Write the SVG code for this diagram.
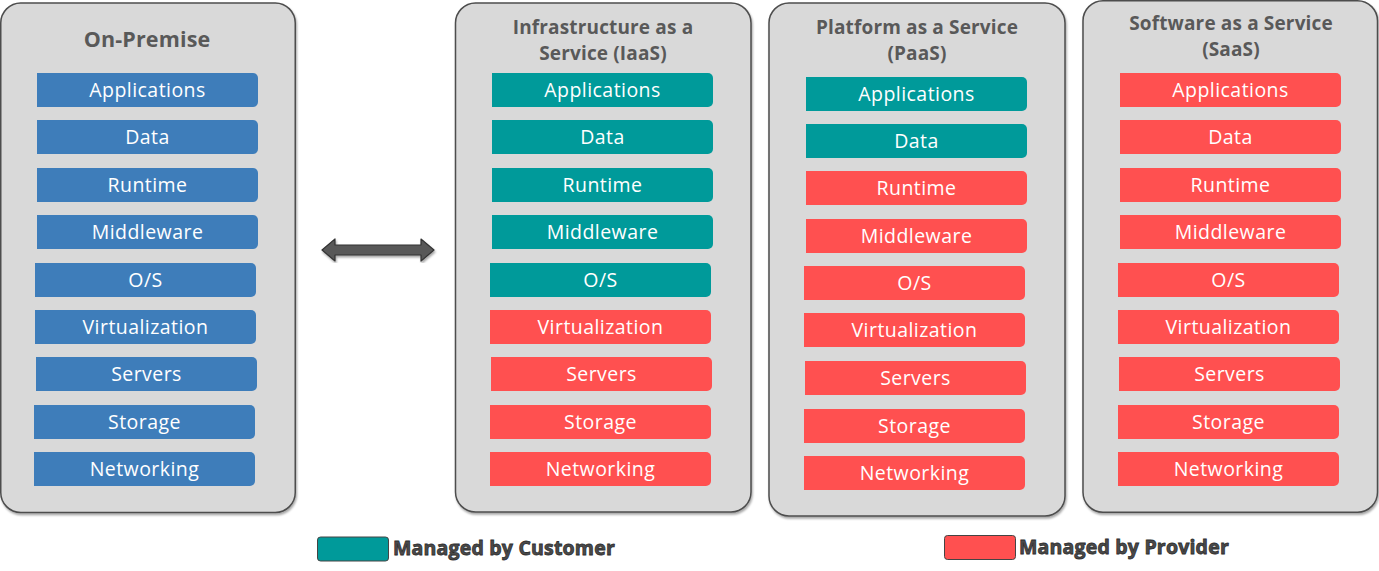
<svg xmlns="http://www.w3.org/2000/svg" width="1379" height="571" viewBox="0 0 1379 571">
<style>
.panel{fill:#d9d9d9;stroke:#4d4d4d;stroke-width:1.5}
.title{font-family:"Open Sans",sans-serif;font-weight:bold;font-size:19px;letter-spacing:0.15px;fill:#595959;text-anchor:middle}
.lbl{font-family:"Open Sans",sans-serif;font-size:19.5px;letter-spacing:0.45px;fill:#ffffff;text-anchor:middle}
.blue{fill:#3e7dba}
.teal{fill:#009a9a}
.red{fill:#ff5050}
.legend{font-family:"Open Sans",sans-serif;font-weight:bold;font-size:19.5px;letter-spacing:0.2px;fill:#4a4a4a;stroke:#2e2e2e;stroke-width:0.8}
</style>
<defs>
<path id="bar" d="M0 0 h216 a5 5 0 0 1 5 5 v24 a5 5 0 0 1 -5 5 h-216 z"/>
<filter id="sh" x="-5%" y="-5%" width="110%" height="110%"><feDropShadow dx="1" dy="2" stdDeviation="1.2" flood-color="#000" flood-opacity="0.35"/></filter>
</defs>
<rect width="1379" height="571" fill="#ffffff"/>

<g id="onpremise">
<rect class="panel" filter="url(#sh)" x="0.75" y="3" width="294.5" height="509.5" rx="20"/>
<text class="title" x="147" y="47" style="font-size:21.5px">On-Premise</text>
<use href="#bar" class="blue" x="37" y="73"/><text class="lbl" x="147.5" y="97">Applications</text>
<use href="#bar" class="blue" x="37" y="120"/><text class="lbl" x="147.5" y="144">Data</text>
<use href="#bar" class="blue" x="37" y="168"/><text class="lbl" x="147.5" y="192">Runtime</text>
<use href="#bar" class="blue" x="37" y="215"/><text class="lbl" x="147.5" y="239">Middleware</text>
<use href="#bar" class="blue" x="35" y="263"/><text class="lbl" x="145.5" y="287">O/S</text>
<use href="#bar" class="blue" x="35" y="310"/><text class="lbl" x="145.5" y="334">Virtualization</text>
<use href="#bar" class="blue" x="36" y="357"/><text class="lbl" x="146.5" y="381">Servers</text>
<use href="#bar" class="blue" x="34" y="405"/><text class="lbl" x="144.5" y="429">Storage</text>
<use href="#bar" class="blue" x="34" y="452"/><text class="lbl" x="144.5" y="476">Networking</text>
</g>

<g id="iaas">
<rect class="panel" filter="url(#sh)" x="455.5" y="3" width="295.5" height="509" rx="20"/>
<text class="title" x="603" y="33.5">Infrastructure as a</text>
<text class="title" x="603" y="59.5">Service (IaaS)</text>
<use href="#bar" class="teal" x="492" y="73"/><text class="lbl" x="602.5" y="97">Applications</text>
<use href="#bar" class="teal" x="492" y="120"/><text class="lbl" x="602.5" y="144">Data</text>
<use href="#bar" class="teal" x="492" y="168"/><text class="lbl" x="602.5" y="192">Runtime</text>
<use href="#bar" class="teal" x="492" y="215"/><text class="lbl" x="602.5" y="239">Middleware</text>
<use href="#bar" class="teal" x="490" y="263"/><text class="lbl" x="600.5" y="287">O/S</text>
<use href="#bar" class="red" x="490" y="310"/><text class="lbl" x="600.5" y="334">Virtualization</text>
<use href="#bar" class="red" x="491" y="357"/><text class="lbl" x="601.5" y="381">Servers</text>
<use href="#bar" class="red" x="490" y="405"/><text class="lbl" x="600.5" y="429">Storage</text>
<use href="#bar" class="red" x="490" y="452"/><text class="lbl" x="600.5" y="476">Networking</text>
</g>

<g id="paas">
<rect class="panel" filter="url(#sh)" x="769" y="3" width="296" height="513" rx="20"/>
<text class="title" x="917" y="33.5">Platform as a Service</text>
<text class="title" x="917" y="59.5">(PaaS)</text>
<use href="#bar" class="teal" x="806" y="77"/><text class="lbl" x="916.5" y="101">Applications</text>
<use href="#bar" class="teal" x="806" y="124"/><text class="lbl" x="916.5" y="148">Data</text>
<use href="#bar" class="red" x="806" y="171"/><text class="lbl" x="916.5" y="195">Runtime</text>
<use href="#bar" class="red" x="806" y="219"/><text class="lbl" x="916.5" y="243">Middleware</text>
<use href="#bar" class="red" x="804" y="266"/><text class="lbl" x="914.5" y="290">O/S</text>
<use href="#bar" class="red" x="804" y="313"/><text class="lbl" x="914.5" y="337">Virtualization</text>
<use href="#bar" class="red" x="805" y="361"/><text class="lbl" x="915.5" y="385">Servers</text>
<use href="#bar" class="red" x="804" y="409"/><text class="lbl" x="914.5" y="433">Storage</text>
<use href="#bar" class="red" x="804" y="456"/><text class="lbl" x="914.5" y="480">Networking</text>
</g>

<g id="saas">
<rect class="panel" filter="url(#sh)" x="1083" y="0.75" width="294.5" height="511.5" rx="20"/>
<text class="title" x="1231" y="30">Software as a Service</text>
<text class="title" x="1231" y="56">(SaaS)</text>
<use href="#bar" class="red" x="1120" y="73"/><text class="lbl" x="1230.5" y="97">Applications</text>
<use href="#bar" class="red" x="1120" y="120"/><text class="lbl" x="1230.5" y="144">Data</text>
<use href="#bar" class="red" x="1120" y="168"/><text class="lbl" x="1230.5" y="192">Runtime</text>
<use href="#bar" class="red" x="1120" y="215"/><text class="lbl" x="1230.5" y="239">Middleware</text>
<use href="#bar" class="red" x="1118" y="263"/><text class="lbl" x="1228.5" y="287">O/S</text>
<use href="#bar" class="red" x="1118" y="310"/><text class="lbl" x="1228.5" y="334">Virtualization</text>
<use href="#bar" class="red" x="1119" y="357"/><text class="lbl" x="1229.5" y="381">Servers</text>
<use href="#bar" class="red" x="1118" y="405"/><text class="lbl" x="1228.5" y="429">Storage</text>
<use href="#bar" class="red" x="1118" y="452"/><text class="lbl" x="1228.5" y="476">Networking</text>
</g>

<g id="connectors">
<path d="M322 250 L335 239 L335 245 L421 245 L421 239 L434 250 L421 261 L421 255 L335 255 L335 261 Z" fill="#595959" stroke="#333" stroke-width="1.2" stroke-linejoin="round" filter="url(#sh)"/>
</g>

<g id="legend-customer">
<rect x="317.5" y="537" width="71" height="24" rx="3" fill="#009a9a" stroke="#444" stroke-width="1"/>
<text class="legend" x="393" y="554.5">Managed by Customer</text>
</g>
<g id="legend-provider">
<rect x="944.5" y="535.5" width="71" height="24" rx="3" fill="#ff5050" stroke="#444" stroke-width="1"/>
<text class="legend" x="1019" y="553.5">Managed by Provider</text>
</g>
</svg>
